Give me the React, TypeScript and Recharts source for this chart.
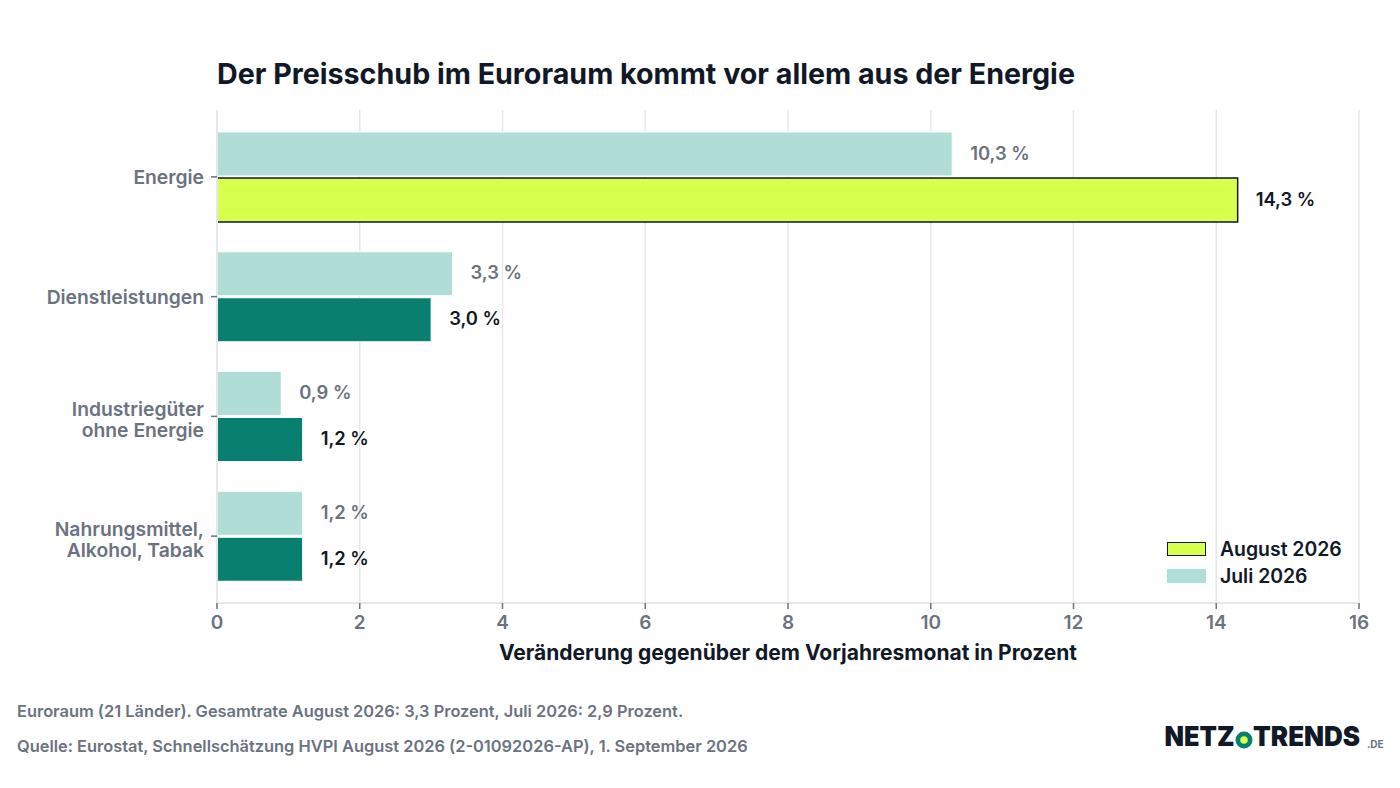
import React from "react";
import { BarChart, Bar, XAxis, YAxis, CartesianGrid, Cell, LabelList, Legend } from "recharts";

const categories = ["Energie", "Dienstleistungen", "Industriegüter\nohne Energie", "Nahrungsmittel,\nAlkohol, Tabak"];
const juli = [10.3, 3.3, 0.9, 1.2];
const august = [14.3, 3.0, 1.2, 1.2];
const xTicks = [0, 2, 4, 6, 8, 10, 12, 14, 16];
const rows = categories.map((c, i) => ({ c, juli: juli[i], august: august[i] }));

const FONT = "Inter, sans-serif";
const GRAY = "#6b7280";
const DARK = "#111827";
const LINE = "#e5e7eb";
const fmt = (v: number) => `${v.toFixed(1).replace(".", ",")} %`;

const YTick = (p: any) => {
  const lines = String(p.payload.value).split("\n");
  const y0 = p.y + 7.5 + (lines.length - 1) * -7.5;
  return (
    <text x={p.x - 1} y={y0} textAnchor="end" fontFamily={FONT} fontSize={19.3} fontWeight={600} fill={GRAY}>
      {lines.map((l: string, i: number) => (
        <tspan key={i} x={p.x - 1} y={y0 + i * 21}>{l}</tspan>
      ))}
    </text>
  );
};

const LegendBox = () => (
  <div style={{ fontFamily: FONT, fontSize: 19.4, fontWeight: 600, color: DARK, width: 190 }}>
    {[
      { n: "August 2026", f: "#d7ff4d", s: DARK },
      { n: "Juli 2026", f: "#b0ddd6", s: "none" },
    ].map((e) => (
      <div key={e.n} style={{ display: "flex", alignItems: "center", height: 27 }}>
        <div style={{ width: 39, height: 14, boxSizing: "border-box", background: e.f, border: e.s === "none" ? "none" : `1.5px solid ${e.s}`, marginRight: 14 }} />
        <span>{e.n}</span>
      </div>
    ))}
  </div>
);

export default function App() {
  return (
    <div style={{ position: "absolute", left: 0, top: 0, width: 1400, height: 788, background: "#fff", fontFamily: FONT, overflow: "hidden" }}>
      <div style={{ position: "absolute", left: 217, top: 56.5, fontSize: 28.65, fontWeight: 700, color: DARK, whiteSpace: "nowrap", lineHeight: "34px" }}>
        Der Preisschub im Euroraum kommt vor allem aus der Energie
      </div>
      <div style={{ position: "absolute", left: 0, top: 0 }}>
        <BarChart
          width={1400}
          height={680}
          data={rows}
          layout="vertical"
          barSize={44}
          barGap={2}
          margin={{ top: 110, right: 41, bottom: 17, left: 0 }}
        >
          <CartesianGrid horizontal={false} stroke={LINE} strokeWidth={1.5} />
          <XAxis
            type="number"
            domain={[0, 16]}
            ticks={xTicks}
            interval={0}
            stroke={LINE}
            strokeWidth={2}
            tickSize={6}
            tickMargin={7}
            tick={{ fill: GRAY, fontFamily: FONT, fontSize: 19, fontWeight: 600 }}
            tickLine={{ stroke: GRAY, strokeWidth: 1.5 }}
            height={60}
            label={{ value: "Veränderung gegenüber dem Vorjahresmonat in Prozent", position: "insideBottom", offset: 3, fill: DARK, fontFamily: FONT, fontSize: 21, fontWeight: 700 }}
          />
          <YAxis
            type="category"
            dataKey="c"
            width={217}
            interval={0}
            padding={{ top: 7, bottom: 7 }}
            stroke={LINE}
            strokeWidth={2}
            tickSize={6}
            tickMargin={6}
            tickLine={{ stroke: GRAY, strokeWidth: 1.5 }}
            tick={<YTick />}
          />
          <Legend layout="vertical" align="center" verticalAlign="middle" wrapperStyle={{ left: 1167, top: 535, width: 190 }} content={<LegendBox />} />
          <Bar dataKey="juli" name="Juli 2026" fill="#b0ddd6" stroke="#ffffff" strokeWidth={1} isAnimationActive={false}>
            <LabelList dataKey="juli" position="right" offset={18} dy={-1} formatter={fmt} fill={GRAY} stroke="none" fontFamily={FONT} fontSize={18.4} fontWeight={600} />
          </Bar>
          <Bar dataKey="august" name="August 2026" fill="#087f6f" isAnimationActive={false}>
            {rows.map((r, i) => (
              <Cell key={r.c} fill={i === 0 ? "#d7ff4d" : "#087f6f"} stroke={i === 0 ? DARK : "#ffffff"} strokeWidth={i === 0 ? 1.5 : 1} />
            ))}
            <LabelList dataKey="august" position="right" offset={18} dy={-1} formatter={fmt} fill={DARK} stroke="none" fontFamily={FONT} fontSize={18.4} fontWeight={600} />
          </Bar>
        </BarChart>
      </div>
      <div style={{ position: "absolute", left: 17, top: 701, fontSize: 16.42, fontWeight: 600, color: GRAY, whiteSpace: "nowrap", lineHeight: "20px" }}>
        Euroraum (21 Länder). Gesamtrate August 2026: 3,3 Prozent, Juli 2026: 2,9 Prozent.
      </div>
      <div style={{ position: "absolute", left: 17, top: 736, fontSize: 16.42, fontWeight: 600, color: GRAY, whiteSpace: "nowrap", lineHeight: "20px" }}>
        Quelle: Eurostat, Schnellschätzung HVPI August 2026 (2-01092026-AP), 1. September 2026
      </div>
      <svg width={240} height={40} style={{ position: "absolute", left: 1160, top: 718 }}>
        <text x={4.5} y={28} fontFamily={FONT} fontSize={27} fontWeight={900} fill={DARK} textLength={70} lengthAdjust="spacingAndGlyphs">NETZ</text>
        <circle cx={84} cy={22} r={8.5} fill="#087f6f" />
        <circle cx={84} cy={22} r={3.8} fill="#d7ff4d" />
        <text x={93} y={28} fontFamily={FONT} fontSize={27} fontWeight={900} fill={DARK} textLength={107} lengthAdjust="spacingAndGlyphs">TRENDS</text>
        <text x={207} y={30} fontFamily={FONT} fontSize={10} fontWeight={700} fill={GRAY}>.DE</text>
      </svg>
    </div>
  );
}
